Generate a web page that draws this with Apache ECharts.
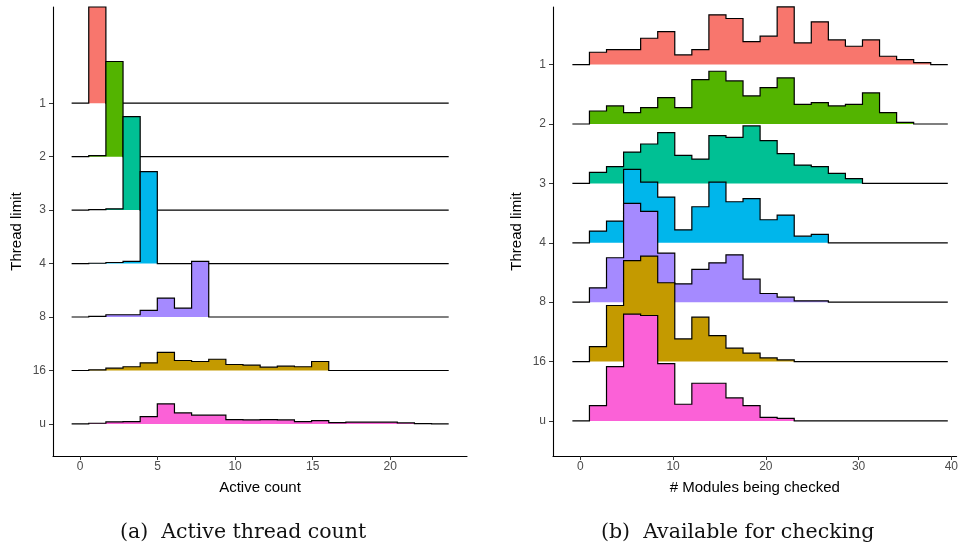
<!DOCTYPE html>
<html><head><meta charset="utf-8">
<script src="https://cdn.jsdelivr.net/npm/echarts@6/dist/echarts.min.js"></script>
<style>html,body{margin:0;padding:0;background:#fff}#c{width:961px;height:548px}</style>
</head><body><div id="c"></div>
<script>
// ---- data ----
const rowLabels = ['1', '2', '3', '4', '8', '16', 'u'];
const rowColors = ['#F8766D', '#53B400', '#00C094', '#00B6EB', '#A58AFF', '#C49A00', '#FB61D7'];
const activeTicks = [0, 5, 10, 15, 20];
const modulesTicks = [0, 10, 20, 30, 40];
const activeBinStart = -0.54, activeBinWidth = 1.105;
const modulesBinStart = -0.86, modulesBinWidth = 1.84;

// (a) Active thread count: ridge heights per bin (in row-spacing units)
const active_1  = [0, 1.80, 0, 0, 0, 0, 0, 0, 0, 0, 0, 0, 0, 0, 0, 0, 0, 0, 0, 0, 0, 0];
const active_2  = [0, 0.02, 1.78, 0, 0, 0, 0, 0, 0, 0, 0, 0, 0, 0, 0, 0, 0, 0, 0, 0, 0, 0];
const active_3  = [0, 0.01, 0.025, 1.75, 0, 0, 0, 0, 0, 0, 0, 0, 0, 0, 0, 0, 0, 0, 0, 0, 0, 0];
const active_4  = [0, 0.006, 0.02, 0.04, 1.72, 0, 0, 0, 0, 0, 0, 0, 0, 0, 0, 0, 0, 0, 0, 0, 0, 0];
const active_8  = [0, 0.013, 0.043, 0.043, 0.125, 0.355, 0.168, 1.04, 0, 0, 0, 0, 0, 0, 0, 0, 0, 0, 0, 0, 0, 0];
const active_16 = [0, 0.013, 0.043, 0.07, 0.144, 0.337, 0.187, 0.168, 0.21, 0.112, 0.1, 0.062, 0.08, 0.07, 0.168, 0, 0, 0, 0, 0, 0, 0];
const active_u  = [0, 0.013, 0.037, 0.043, 0.137, 0.374, 0.206, 0.163, 0.163, 0.08, 0.075, 0.08, 0.075, 0.043, 0.062, 0.024, 0.032, 0.032, 0.032, 0.019, 0.006, 0];

// (b) Available for checking
const modules_1  = [0, 0.208, 0.253, 0.253, 0.444, 0.556, 0.163, 0.253, 0.838, 0.776, 0.388, 0.478, 0.972, 0.365, 0.72, 0.416, 0.309, 0.416, 0.141, 0.084, 0.034, 0];
const modules_2  = [0, 0.219, 0.304, 0.191, 0.275, 0.444, 0.275, 0.748, 0.888, 0.725, 0.472, 0.613, 0.776, 0.332, 0.36, 0.304, 0.332, 0.523, 0.191, 0.028, 0, 0];
const modules_3  = [0, 0.186, 0.281, 0.528, 0.663, 0.854, 0.472, 0.41, 0.804, 0.776, 0.967, 0.72, 0.5, 0.309, 0.281, 0.169, 0.079, 0, 0, 0, 0, 0];
const modules_4  = [0, 0.197, 0.365, 1.237, 1.023, 0.77, 0.219, 0.607, 1.023, 0.691, 0.742, 0.388, 0.467, 0.112, 0.141, 0, 0, 0, 0, 0, 0, 0];
const modules_8  = [0, 0.242, 0.748, 1.664, 1.529, 0.826, 0.309, 0.551, 0.663, 0.798, 0.388, 0.146, 0.084, 0.022, 0.022, 0, 0, 0, 0, 0, 0, 0];
const modules_16 = [0, 0.253, 0.944, 1.698, 1.776, 1.327, 0.382, 0.748, 0.438, 0.225, 0.141, 0.062, 0.028, 0, 0, 0, 0, 0, 0, 0, 0, 0];
const modules_u  = [0, 0.259, 0.916, 1.799, 1.776, 0.967, 0.281, 0.635, 0.635, 0.388, 0.259, 0.062, 0.045, 0, 0, 0, 0, 0, 0, 0, 0, 0];

const activeRows = [active_1, active_2, active_3, active_4, active_8, active_16, active_u];
const modulesRows = [modules_1, modules_2, modules_3, modules_4, modules_8, modules_16, modules_u];

// ---- build ----
function ridge(heights, rowIdx, start, width, axisIdx) {
  const base = rowLabels.length - 1 - rowIdx;
  const end = start + heights.length * width;
  const pts = [];
  heights.forEach((h, i) => {
    pts.push([start + i * width, base + h]);
    pts.push([start + (i + 1) * width, base + h]);
  });
  return {
    type: 'custom', name: rowLabels[rowIdx], coordinateSystem: 'cartesian2d',
    xAxisIndex: axisIdx, yAxisIndex: axisIdx, silent: true, clip: false,
    data: [[start, base]],
    renderItem: (params, api) => {
      const line = pts.map(p => api.coord(p));
      const poly = line.concat([api.coord([end, base]), api.coord([start, base])]);
      return {
        type: 'group', children: [
          { type: 'polygon', shape: { points: poly }, style: { fill: rowColors[rowIdx], stroke: null } },
          { type: 'polyline', shape: { points: line }, style: { stroke: '#000', lineWidth: 1.2, fill: null, lineJoin: 'miter' } }
        ]
      };
    }
  };
}
const series = [];
activeRows.forEach((r, i) => series.push(ridge(r, i, activeBinStart, activeBinWidth, 0)));
modulesRows.forEach((r, i) => series.push(ridge(r, i, modulesBinStart, modulesBinWidth, 1)));

const rowPos = rowLabels.map((_, i) => i);
const tickFont = { color: '#4D4D4D', fontSize: 12, fontFamily: 'Liberation Sans, Arial, sans-serif' };
const nameFont = { color: '#000', fontSize: 15, fontFamily: 'Liberation Sans, Arial, sans-serif' };

function xAxis(grid, min, max, ticks, name) {
  return {
    type: 'value', gridIndex: grid, min, max, name, nameLocation: 'middle', nameGap: 24,
    nameTextStyle: nameFont,
    axisLine: { show: true, onZero: false, lineStyle: { color: '#000', width: 1.1 } },
    axisTick: { show: true, length: 4, customValues: ticks, lineStyle: { color: '#333' } },
    axisLabel: { ...tickFont, margin: 5, customValues: ticks },
    splitLine: { show: false }
  };
}
function yAxis(grid, min, max) {
  return {
    type: 'value', gridIndex: grid, min, max, name: 'Thread limit', nameLocation: 'middle', nameGap: 29,
    nameTextStyle: nameFont,
    axisLine: { show: true, onZero: false, lineStyle: { color: '#000', width: 1.1 } },
    axisTick: { show: true, length: 4, customValues: rowPos, lineStyle: { color: '#333' } },
    axisLabel: { ...tickFont, margin: 7, customValues: rowPos,
      formatter: v => rowLabels[rowLabels.length - 1 - Math.round(v)] },
    splitLine: { show: false }
  };
}

const chart = echarts.init(document.getElementById('c'), null, { renderer: 'canvas' });
chart.setOption({
  animation: false,
  backgroundColor: '#fff',
  grid: [
    { left: 53, right: 494, top: 7, bottom: 92 },
    { left: 553, right: 3, top: 7, bottom: 92 }
  ],
  xAxis: [
    xAxis(0, -1.74, 24.95, activeTicks, 'Active count'),
    xAxis(1, -2.95, 40.57, modulesTicks, '# Modules being checked')
  ],
  yAxis: [yAxis(0, -0.6, 7.8), yAxis(1, -0.59, 6.97)],
  series,
  graphic: [
    { type: 'text', left: 120, top: 522, style: { text: '(a)  Active thread count', font: '20.5px "DejaVu Serif", serif', fill: '#111' } },
    { type: 'text', left: 601, top: 522, style: { text: '(b)  Available for checking', font: '20.5px "DejaVu Serif", serif', fill: '#111' } }
  ]
});
</script></body></html>
